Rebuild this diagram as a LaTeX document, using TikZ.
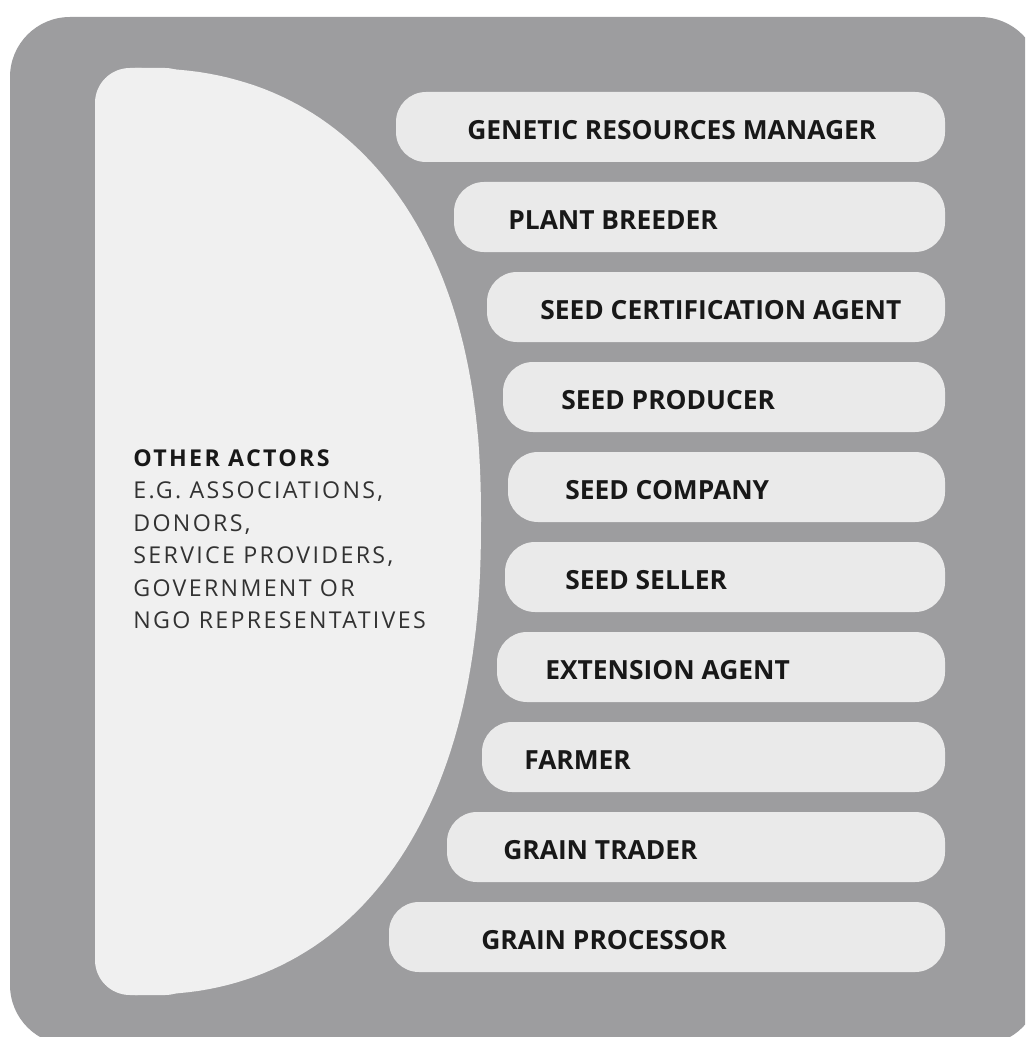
\documentclass[tikz,border=0pt]{standalone}
\usepackage{fontspec}
\setmainfont{Open Sans}
\newfontfamily\spacedfont{Open Sans}[LetterSpace=10]
\definecolor{panelgray}{RGB}{157,157,159}
\definecolor{actorfill}{RGB}{240,240,240}
\definecolor{barfill}{RGB}{234,234,234}
\definecolor{labeltext}{RGB}{24,24,24}
\definecolor{softtext}{RGB}{50,50,50}

\begin{document}
\begin{tikzpicture}[x=0.02cm,y=-0.02cm,
    bar/.style={fill=barfill,rounded corners=0.6cm},
    barlabel/.style={anchor=west,inner sep=0pt,text=labeltext,font=\bfseries\fontsize{15}{18}\selectfont}]
  \useasboundingbox (0,0) rectangle (1025,1037);
  \clip (0,0) rectangle (1025,1037);
  % background panel
  \fill[panelgray,rounded corners=1.2cm](10,17)rectangle(1040,1045);
  % other actors
  \fill[actorfill,rounded corners=0.7cm](95,68)rectangle(200,995);
  \fill[actorfill](135,68)
    --plot[domain=89.5:0,samples=60]({135+346*pow(cos(\x),0.87)},{520-452*pow(sin(\x),0.87)})
    --plot[domain=0:89.5,samples=60]({135+346*pow(cos(\x),0.87)},{520+475*pow(sin(\x),0.87)})
    --(135,995)--cycle;
  \node[anchor=north west,inner sep=0pt,align=left,text=softtext,font=\spacedfont\fontsize{13.2}{18.5}\selectfont](others) at (133,449)
    {\textbf{\textcolor{labeltext}{OTHER ACTORS}}\\E.G. ASSOCIATIONS,\\DONORS,\\SERVICE PROVIDERS,\\GOVERNMENT OR\\NGO REPRESENTATIVES};
  % roles
  \foreach \n/\x/\tx/\txt in {1/396/467/GENETIC RESOURCES MANAGER,2/454/508/PLANT BREEDER,3/487/540/SEED CERTIFICATION AGENT,
      4/503/561/SEED PRODUCER,5/508/565/SEED COMPANY,6/505/565/SEED SELLER,7/497/545/EXTENSION AGENT,
      8/482/524/FARMER,9/447/503/GRAIN TRADER,10/389/481/GRAIN PROCESSOR}{
    \fill[bar](\x,{127+90*(\n-1)-35})rectangle(945,{127+90*(\n-1)+35});
    \node[barlabel](role\n) at (\tx,{127+90*(\n-1)+3}) {\txt};
  }
\end{tikzpicture}
\end{document}
